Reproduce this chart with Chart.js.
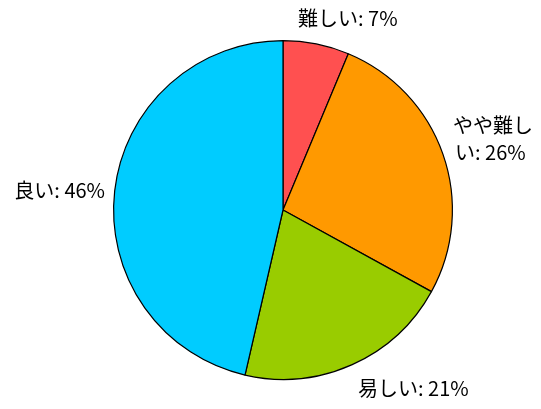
<!DOCTYPE html>
<html>
<head>
<meta charset="utf-8">
<script src="https://cdn.jsdelivr.net/npm/chart.js@4/dist/chart.umd.min.js"></script>
<style>
html,body{margin:0;padding:0;background:#fff;}
#wrap{width:541px;height:409px;}
</style>
</head>
<body>
<div id="wrap"><canvas id="c" width="541" height="409"></canvas></div>
<script>
const categories = ['難しい', 'やや難しい', '易しい', '良い'];
const values = [6.3, 26.7, 20.6, 46.4];
const labelTexts = [['難しい: 7%'], ['やや難し', 'い: 26%'], ['易しい: 21%'], ['良い: 46%']];
const colors = ['#FF5050', '#FF9900', '#99CC00', '#00CCFF'];

// label anchors (text layout only)
const labelPos = [
  {x: 298, y: 18, align: 'left', lh: 0},
  {x: 453, y: 125, align: 'left', lh: 27},
  {x: 358, y: 388, align: 'left', lh: 0},
  {x: 105, y: 190, align: 'right', lh: 0}
];

const labelPlugin = {
  id: 'pieLabels',
  afterDatasetsDraw(chart) {
    const ctx = chart.ctx;
    ctx.save();
    ctx.fillStyle = '#000';
    ctx.font = '20px "Noto Sans CJK JP", sans-serif';
    ctx.textBaseline = 'middle';
    labelTexts.forEach((lines, i) => {
      const p = labelPos[i];
      ctx.textAlign = p.align;
      lines.forEach((t, j) => {
        ctx.fillText(t, p.x + (j > 0 ? 2 : 0), p.y + j * p.lh);
      });
    });
    ctx.restore();
  }
};

new Chart(document.getElementById('c'), {
  type: 'pie',
  data: {
    labels: categories,
    datasets: [{
      data: values,
      backgroundColor: colors,
      borderColor: '#000',
      borderWidth: 1.2
    }]
  },
  options: {
    responsive: false,
    animation: false,
    layout: {padding: {top: 40, bottom: 29, left: 113, right: 88}},
    plugins: {legend: {display: false}, tooltip: {enabled: false}}
  },
  plugins: [labelPlugin]
});
</script>
</body>
</html>
